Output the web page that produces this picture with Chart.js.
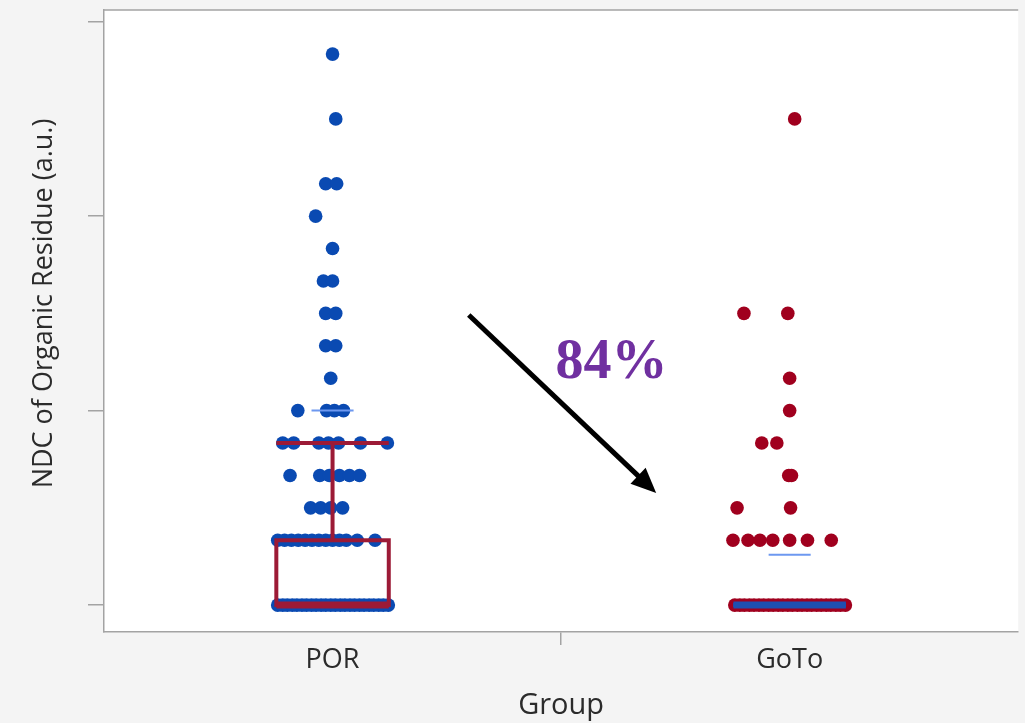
<!DOCTYPE html>
<html><head><meta charset="utf-8">
<script src="https://cdn.jsdelivr.net/npm/chart.js@4.4.1/dist/chart.umd.min.js"></script>
<style>html,body{margin:0;padding:0;background:#f4f4f4;} #wrap{width:1025px;height:723px;}</style>
</head><body><div id="wrap"><canvas id="c"></canvas></div>
<script>
// ---- data (y in units of 1/6 of a tick step) ----
const groups = ['POR', 'GoTo'];
const yTickValues = [0, 6, 12, 18];

const porValues = [17, 15, 13, 13, 12, 11, 10, 10, 9, 9, 8, 8, 7,
  6, 6, 6, 6,
  5, 5, 5, 5, 5, 5, 5,
  4, 4, 4, 4, 4, 4,
  3, 3, 3, 3,
  2, 2, 2, 2, 2, 2, 2, 2, 2, 2, 2, 2, 2,
  0, 0, 0, 0, 0, 0, 0, 0, 0, 0, 0, 0, 0, 0, 0, 0, 0, 0, 0, 0, 0, 0, 0, 0];
const porJitter = [0, 0.007, -0.015, 0.009, -0.037, 0, -0.020, 0, -0.015, 0.007, -0.015, 0.007, -0.004,
  -0.076, -0.013, 0.004, 0.024,
  -0.109, -0.085, -0.030, -0.009, 0.013, 0.061, 0.120,
  -0.093, -0.028, -0.007, 0.015, 0.037, 0.059,
  -0.048, -0.026, -0.004, 0.022,
  -0.120, -0.105, -0.090, -0.075, -0.060, -0.045, -0.030, -0.015, 0, 0.015, 0.030, 0.054, 0.093,
  -0.120, -0.109, -0.099, -0.088, -0.078, -0.067, -0.057, -0.046, -0.036, -0.025, -0.015, -0.004,
  0.006, 0.017, 0.027, 0.038, 0.048, 0.059, 0.069, 0.080, 0.090, 0.101, 0.111, 0.122];

const gotoValues = [15, 9, 9, 7, 6, 5, 5, 4, 4, 3, 3,
  2, 2, 2, 2, 2, 2, 2,
  0, 0, 0, 0, 0, 0, 0, 0, 0, 0, 0, 0, 0, 0, 0, 0, 0, 0, 0, 0, 0, 0, 0, 0];
const gotoJitter = [0.011, -0.100, -0.004, 0, 0, -0.061, -0.028, -0.002, 0.004, -0.115, 0.002,
  -0.124, -0.091, -0.065, -0.037, 0, 0.039, 0.091,
  -0.120, -0.109, -0.099, -0.088, -0.078, -0.067, -0.057, -0.046, -0.036, -0.025, -0.015, -0.004,
  0.006, 0.017, 0.027, 0.038, 0.048, 0.059, 0.069, 0.080, 0.090, 0.101, 0.111, 0.122];

const boxQ1 = [0, 0];
const boxMedian = [0, 0];
const boxQ3 = [2, 0];
const whiskerLow = [0, 0];
const whiskerHigh = [5, 0];
const groupMeans = [6, 1.55];

const annotationText = '84%';
const arrowFrom = {x: 0.298, y: 8.95};
const arrowTo = {x: 0.708, y: 3.46};
const textAt = {x: 0.610, y: 7.45};

// ---- styles ----
const FONT = "'Segoe UI', 'Open Sans', sans-serif";
const TEXT = '#2b2b2b';
const dotColors = ['#0a4ab2', '#a0001e'];
const boxColors = ['#9c1a36', '#1f4fb0'];
const meanColor = '#6d98f0';
const axisGray = '#a3a3a3';

const boxPlugin = {
  id: 'boxes',
  beforeDraw(chart) {
    const {ctx, chartArea: a} = chart;
    ctx.save();
    ctx.fillStyle = '#f4f4f4';
    ctx.fillRect(0, 0, chart.width, chart.height);
    ctx.fillStyle = '#ffffff';
    ctx.fillRect(a.left, a.top, a.right - a.left, a.bottom - a.top);
    ctx.restore();
  },
  afterDatasetsDraw(chart) {
    const {ctx, scales: {x, y}} = chart;
    const half = 0.123, meanHalf = 0.046;
    ctx.save();
    groups.forEach((g, i) => {
      const cx = x.getPixelForValue(i);
      const l = x.getPixelForValue(i - half), r = x.getPixelForValue(i + half);
      const yq1 = y.getPixelForValue(boxQ1[i]), yq3 = y.getPixelForValue(boxQ3[i]);
      const ym = y.getPixelForValue(boxMedian[i]);
      const yhi = y.getPixelForValue(whiskerHigh[i]), ylo = y.getPixelForValue(whiskerLow[i]);
      ctx.strokeStyle = boxColors[i];
      ctx.lineWidth = 4;
      ctx.lineCap = 'butt';
      ctx.strokeRect(l, yq3, r - l, yq1 - yq3);
      ctx.beginPath();
      ctx.moveTo(cx, yq3); ctx.lineTo(cx, yhi);
      ctx.moveTo(l, yhi); ctx.lineTo(r, yhi);
      ctx.moveTo(cx, yq1); ctx.lineTo(cx, ylo);
      ctx.stroke();
      ctx.lineWidth = 7;
      ctx.beginPath();
      ctx.moveTo(l, ym); ctx.lineTo(r, ym);
      ctx.stroke();
      // mean line
      const ymean = y.getPixelForValue(groupMeans[i]);
      ctx.strokeStyle = meanColor;
      ctx.lineWidth = 2;
      ctx.beginPath();
      ctx.moveTo(x.getPixelForValue(i - meanHalf), ymean);
      ctx.lineTo(x.getPixelForValue(i + meanHalf), ymean);
      ctx.stroke();
    });
    ctx.restore();
  },
  afterDraw(chart) {
    const {ctx, chartArea: a, scales: {x, y}} = chart;
    ctx.save();
    // frame top line
    ctx.strokeStyle = axisGray;
    ctx.lineWidth = 1.5;
    ctx.beginPath();
    ctx.moveTo(a.left, a.top); ctx.lineTo(a.right, a.top);
    ctx.stroke();
    // arrow
    const x1 = x.getPixelForValue(arrowFrom.x), y1 = y.getPixelForValue(arrowFrom.y);
    const x2 = x.getPixelForValue(arrowTo.x), y2 = y.getPixelForValue(arrowTo.y);
    const ang = Math.atan2(y2 - y1, x2 - x1);
    const headLen = 25, headW = 11;
    const bx = x2 - headLen * Math.cos(ang), by = y2 - headLen * Math.sin(ang);
    ctx.strokeStyle = '#000';
    ctx.fillStyle = '#000';
    ctx.lineWidth = 5;
    ctx.lineCap = 'butt';
    ctx.beginPath();
    ctx.moveTo(x1, y1); ctx.lineTo(bx + 2 * Math.cos(ang), by + 2 * Math.sin(ang));
    ctx.stroke();
    ctx.beginPath();
    ctx.moveTo(x2, y2);
    ctx.lineTo(bx + headW * Math.sin(ang), by - headW * Math.cos(ang));
    ctx.lineTo(bx - headW * Math.sin(ang), by + headW * Math.cos(ang));
    ctx.closePath();
    ctx.fill();
    // text
    ctx.fillStyle = '#7030a0';
    ctx.font = "bold 56px 'Liberation Serif', 'Times New Roman', serif";
    ctx.textAlign = 'center';
    ctx.textBaseline = 'middle';
    ctx.fillText(annotationText, x.getPixelForValue(textAt.x), y.getPixelForValue(textAt.y));
    ctx.restore();
  }
};

const datasets = [
  {label: groups[0], data: porValues.map((v, i) => ({x: 0 + porJitter[i], y: v})),
   backgroundColor: dotColors[0], borderColor: dotColors[0], pointRadius: 6.8, pointBorderWidth: 0},
  {label: groups[1], data: gotoValues.map((v, i) => ({x: 1 + gotoJitter[i], y: v})),
   backgroundColor: dotColors[1], borderColor: dotColors[1], pointRadius: 6.8, pointBorderWidth: 0}
];

new Chart(document.getElementById('c'), {
  type: 'scatter',
  data: {datasets},
  plugins: [boxPlugin],
  options: {
    responsive: true,
    maintainAspectRatio: false,
    animation: false,
    events: [],
    layout: {padding: {top: 10, right: 0, left: 0, bottom: 0}},
    plugins: {legend: {display: false}, tooltip: {enabled: false}},
    scales: {
      x: {
        type: 'linear', min: -0.5, max: 1.5,
        afterBuildTicks(s) { s.ticks = [{value: 0}, {value: 0.5}, {value: 1}]; },
        afterFit(s) { s.height = 91; },
        ticks: {
          callback: (v) => v === 0 ? groups[0] : (v === 1 ? groups[1] : ''),
          color: TEXT, font: {family: FONT, size: 27}, padding: -1, maxRotation: 0, autoSkip: false
        },
        grid: {drawOnChartArea: false, tickLength: 13, lineWidth: 1.5,
               tickColor: (c) => (c.tick && c.tick.value === 0.5) ? axisGray : 'rgba(0,0,0,0)'},
        border: {display: true, color: axisGray, width: 1.5},
        title: {display: true, text: 'Group', color: TEXT, font: {family: FONT, size: 29}, padding: {top: 0, bottom: 0}}
      },
      y: {
        type: 'linear', min: -0.83, max: 18.36,
        afterBuildTicks(s) { s.ticks = yTickValues.map(v => ({value: v})); },
        afterFit(s) { s.width = 104; },
        ticks: {display: false},
        grid: {drawOnChartArea: false, tickLength: 16, lineWidth: 1.5, tickColor: axisGray},
        border: {display: true, color: axisGray, width: 1.5},
        title: {display: true, text: '     NDC of Organic Residue (a.u.)', color: TEXT, font: {family: FONT, size: 27}, padding: {top: 28, bottom: 0}}
      }
    }
  }
});
</script>
</body></html>
